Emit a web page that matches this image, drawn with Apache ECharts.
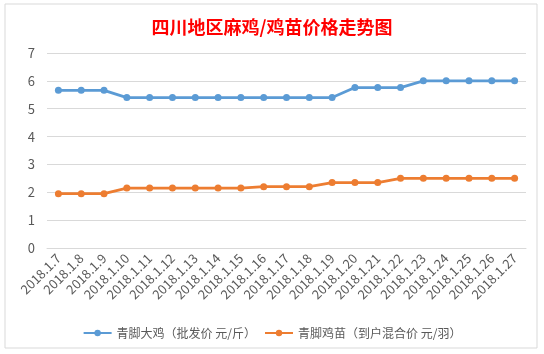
<!DOCTYPE html>
<html>
<head>
<meta charset="utf-8">
<script src="https://cdn.jsdelivr.net/npm/echarts@6/dist/echarts.min.js"></script>
<style>
  html, body { margin: 0; padding: 0; background: #fff; }
  #main { width: 544px; height: 354px; }
</style>
</head>
<body>
<div id="main"></div>
<script>
// 日期
let dates = ['2018.1.7', '2018.1.8', '2018.1.9', '2018.1.10', '2018.1.11', '2018.1.12', '2018.1.13',
    '2018.1.14', '2018.1.15', '2018.1.16', '2018.1.17', '2018.1.18', '2018.1.19', '2018.1.20',
    '2018.1.21', '2018.1.22', '2018.1.23', '2018.1.24', '2018.1.25', '2018.1.26', '2018.1.27'];
// 青脚大鸡 批发价 元/斤
let bigChicken = [5.66, 5.66, 5.66, 5.4, 5.4, 5.4, 5.4, 5.4, 5.4, 5.4, 5.4, 5.4, 5.4,
    5.76, 5.76, 5.76, 6, 6, 6, 6, 6];
// 青脚鸡苗 到户混合价 元/羽
let chick = [1.95, 1.95, 1.95, 2.15, 2.15, 2.15, 2.15, 2.15, 2.15, 2.2, 2.2, 2.2, 2.35,
    2.35, 2.35, 2.5, 2.5, 2.5, 2.5, 2.5, 2.5];
let seriesNames = ['青脚大鸡（批发价 元/斤）', '青脚鸡苗（到户混合价 元/羽）'];

let font = '"Microsoft YaHei", "Noto Sans CJK SC", sans-serif';
let myChart = echarts.init(document.getElementById('main'));

function lineSeries(name, data, color) {
    return {
        name: name,
        type: 'line',
        data: data,
        symbol: 'circle',
        symbolSize: 7,
        lineStyle: {width: 2.8, color: color},
        itemStyle: {color: color},
        animation: false
    };
}

myChart.setOption({
    backgroundColor: '#fff',
    title: {
        text: '四川地区麻鸡/鸡苗价格走势图',
        left: 'center',
        top: 13,
        textStyle: {color: '#ff0000', fontSize: 18, fontWeight: 'bold', fontFamily: font}
    },
    graphic: [{
        type: 'rect',
        shape: {x: 5, y: 4, width: 532, height: 344},
        style: {fill: 'none', stroke: '#d9d9d9', lineWidth: 1},
        silent: true
    }],
    legend: {
        bottom: 10,
        left: 'center',
        itemWidth: 28,
        itemHeight: 8,
        itemGap: 8,
        textStyle: {color: '#595959', fontSize: 12, fontFamily: font},
        data: seriesNames
    },
    grid: {left: 47, right: 18, top: 53, bottom: 106},
    xAxis: {
        type: 'category',
        data: dates,
        boundaryGap: true,
        axisLine: {lineStyle: {color: '#d9d9d9'}},
        axisTick: {show: false},
        axisLabel: {rotate: 45, interval: 0, color: '#595959', fontSize: 13, margin: 8, fontFamily: font}
    },
    yAxis: {
        type: 'value',
        min: 0,
        max: 7,
        interval: 1,
        axisLine: {show: false},
        axisTick: {show: false},
        axisLabel: {color: '#595959', fontSize: 13, margin: 12, fontFamily: font},
        splitLine: {lineStyle: {color: '#d9d9d9'}}
    },
    series: [
        lineSeries(seriesNames[0], bigChicken, '#5b9bd5'),
        lineSeries(seriesNames[1], chick, '#ed7d31')
    ]
});
</script>
</body>
</html>
